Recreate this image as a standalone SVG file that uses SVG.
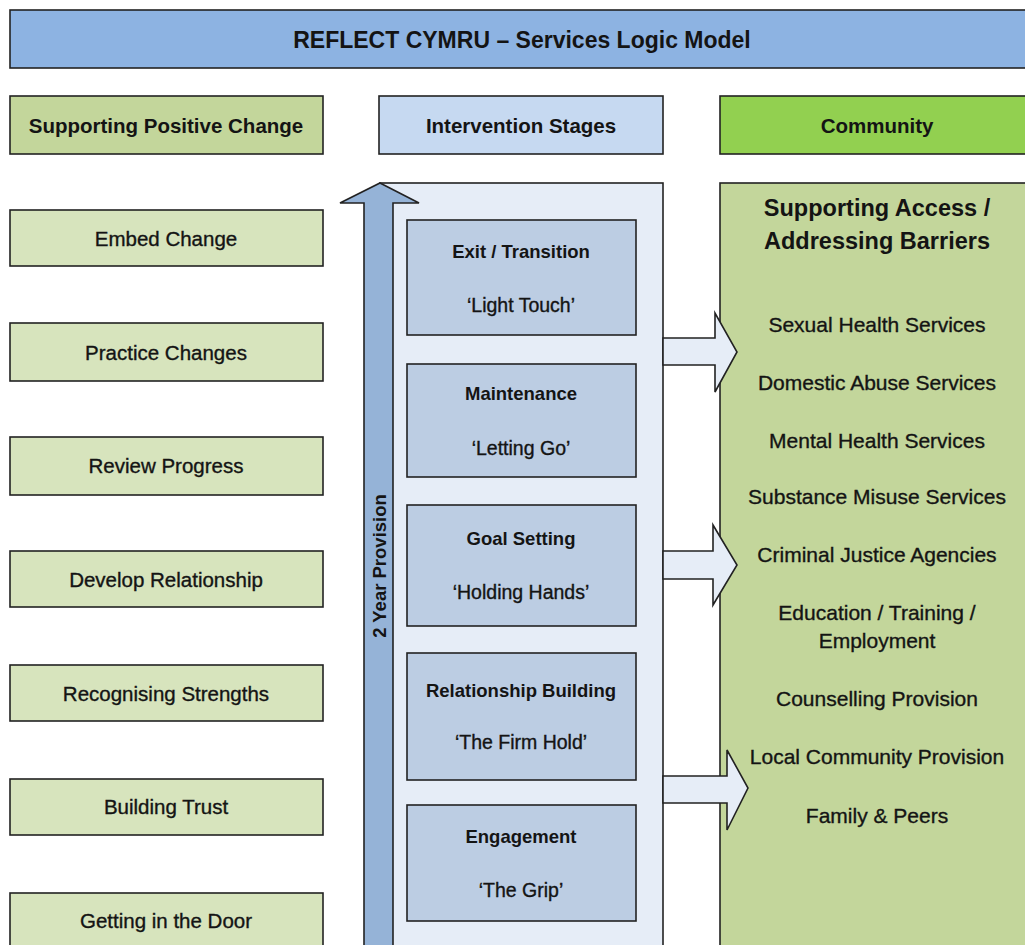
<svg xmlns="http://www.w3.org/2000/svg" width="1025" height="945" viewBox="0 0 1025 945">
  <style>
    text { font-family: "Liberation Sans", Arial, sans-serif; fill: #141414; text-anchor: middle; dominant-baseline: central; }
    .box { stroke: #222; stroke-width: 1.6; }
    .title { font-size: 23px; font-weight: bold; }
    .head { font-size: 20.5px; font-weight: bold; }
    .step { fill: #d7e4bd; }
    .step-t { font-size: 20.5px; stroke: #141414; stroke-width: 0.35; }
    .stage { fill: #bccde3; }
    .stage-t { font-size: 18.5px; font-weight: bold; }
    .stage-s { font-size: 19.5px; stroke: #141414; stroke-width: 0.35; }
    .item { font-size: 21px; stroke: #141414; stroke-width: 0.35; }
    .flow { fill: #e6edf7; stroke: #222; stroke-width: 1.6; stroke-linejoin: miter; }
  </style>

  <!-- banner -->
  <g id="title">
    <rect class="box" x="10" y="10" width="1030" height="58" fill="#8db3e2"/>
    <text class="title" x="522" y="40">REFLECT CYMRU – Services Logic Model</text>
  </g>

  <!-- column headings -->
  <g id="head-change">
    <rect class="box" x="10" y="96" width="313" height="58" fill="#c3d69b"/>
    <text class="head" x="166" y="125">Supporting Positive Change</text>
  </g>
  <g id="head-stages">
    <rect class="box" x="379" y="96" width="284" height="58" fill="#c6d9f1"/>
    <text class="head" x="521" y="125">Intervention Stages</text>
  </g>
  <g id="head-community">
    <rect class="box" x="720" y="96" width="320" height="58" fill="#92d050"/>
    <text class="head" x="877" y="125">Community</text>
  </g>

  <!-- supporting positive change steps -->
  <g id="step-embed">
    <rect class="box step" x="10" y="210" width="313" height="56"/>
    <text class="step-t" x="166" y="238">Embed Change</text>
  </g>
  <g id="step-practice">
    <rect class="box step" x="10" y="323" width="313" height="58"/>
    <text class="step-t" x="166" y="352">Practice Changes</text>
  </g>
  <g id="step-review">
    <rect class="box step" x="10" y="437" width="313" height="58"/>
    <text class="step-t" x="166" y="465">Review Progress</text>
  </g>
  <g id="step-develop">
    <rect class="box step" x="10" y="551" width="313" height="56"/>
    <text class="step-t" x="166" y="579">Develop Relationship</text>
  </g>
  <g id="step-recognise">
    <rect class="box step" x="10" y="665" width="313" height="56"/>
    <text class="step-t" x="166" y="693">Recognising Strengths</text>
  </g>
  <g id="step-trust">
    <rect class="box step" x="10" y="779" width="313" height="56"/>
    <text class="step-t" x="166" y="806">Building Trust</text>
  </g>
  <g id="step-door">
    <rect class="box step" x="10" y="893" width="313" height="70"/>
    <text class="step-t" x="166" y="920">Getting in the Door</text>
  </g>

  <!-- community panel -->
  <g id="community">
    <rect class="box" x="720" y="183" width="320" height="780" fill="#c3d69b"/>
    <text x="877" y="208" font-size="23.5" font-weight="bold">Supporting Access /</text>
    <text x="877" y="241" font-size="23.5" font-weight="bold">Addressing Barriers</text>
    <text class="item" x="877" y="324">Sexual Health Services</text>
    <text class="item" x="877" y="382">Domestic Abuse Services</text>
    <text class="item" x="877" y="440">Mental Health Services</text>
    <text class="item" x="877" y="496">Substance Misuse Services</text>
    <text class="item" x="877" y="554">Criminal Justice Agencies</text>
    <text class="item" x="877" y="612">Education / Training /</text>
    <text class="item" x="877" y="640">Employment</text>
    <text class="item" x="877" y="698">Counselling Provision</text>
    <text class="item" x="877" y="756">Local Community Provision</text>
    <text class="item" x="877" y="815">Family &amp; Peers</text>
  </g>

  <!-- intervention stages panel -->
  <g id="stages-panel">
    <rect class="box" x="380" y="183" width="283" height="780" fill="#e6edf7"/>
  </g>

  <!-- two-year provision arrow -->
  <g id="provision">
    <polygon points="380,183 419,203 393,203 393,963 364,963 364,203 340,203" fill="#95b3d7" stroke="#222" stroke-width="1.6"/>
    <text x="0" y="0" font-size="18.5" font-weight="bold" transform="translate(379 566) rotate(-90)">2 Year Provision</text>
  </g>

  <g id="stage-exit">
    <rect class="box stage" x="407" y="220" width="229" height="115"/>
    <text class="stage-t" x="521" y="251">Exit / Transition</text>
    <text class="stage-s" x="521" y="305">‘Light Touch’</text>
  </g>
  <g id="stage-maintenance">
    <rect class="box stage" x="407" y="364" width="229" height="113"/>
    <text class="stage-t" x="521" y="393">Maintenance</text>
    <text class="stage-s" x="521" y="448">‘Letting Go’</text>
  </g>
  <g id="stage-goal">
    <rect class="box stage" x="407" y="505" width="229" height="121"/>
    <text class="stage-t" x="521" y="538">Goal Setting</text>
    <text class="stage-s" x="521" y="592">‘Holding Hands’</text>
  </g>
  <g id="stage-relationship">
    <rect class="box stage" x="407" y="653" width="229" height="127"/>
    <text class="stage-t" x="521" y="690">Relationship Building</text>
    <text class="stage-s" x="521" y="742">‘The Firm Hold’</text>
  </g>
  <g id="stage-engagement">
    <rect class="box stage" x="407" y="805" width="229" height="116"/>
    <text class="stage-t" x="521" y="836">Engagement</text>
    <text class="stage-s" x="521" y="890">‘The Grip’</text>
  </g>

  <!-- block arrows from stages into community services -->
  <g id="connectors">
    <polygon class="flow" points="663,338 715,338 715,313 737,352 715,392 715,365 663,365"/>
    <polygon class="flow" points="663,551 713,551 713,525 737,565 713,605 713,579 663,579"/>
    <polygon class="flow" points="663,776 727,776 727,750 748,788 727,830 727,803 663,803"/>
  </g>
</svg>
